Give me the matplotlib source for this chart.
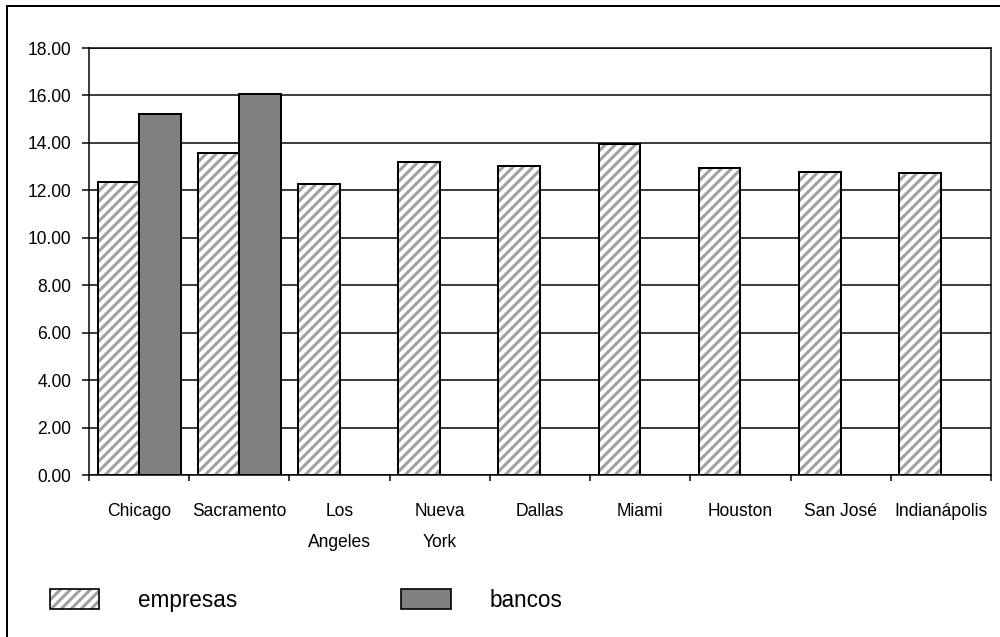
import matplotlib
matplotlib.use("Agg")
import matplotlib.pyplot as plt
import numpy as np
from matplotlib.patches import Patch, Rectangle
from matplotlib.legend_handler import HandlerTuple

ciudades = ["Chicago", "Sacramento", "Los\nAngeles", "Nueva\nYork", "Dallas",
            "Miami", "Houston", "San José", "Indianápolis"]
empresas = [12.36, 13.58, 12.26, 13.19, 13.03, 13.95, 12.96, 12.78, 12.72]
bancos = [15.24, 16.08, np.nan, np.nan, np.nan, np.nan, np.nan, np.nan, np.nan]
y_ticks = np.arange(0, 18.01, 2)

plt.rcParams["font.family"] = ["Liberation Sans", "DejaVu Sans"]
plt.rcParams["hatch.linewidth"] = 1.8

DPI = 120
fig = plt.figure(figsize=(1000 / DPI, 637 / DPI), dpi=DPI)
ax = fig.add_axes([0.089, 0.2543, 0.902, 0.6703])

x = np.arange(len(ciudades))
w = 0.415
off = 0.2075
HATCH = "////"

# hatched bars: gray stripes first, black outline on top
ax.bar(x - off, empresas, w, facecolor="white", edgecolor="#a0a0a0",
       hatch=HATCH, linewidth=0, zorder=3)
ax.bar(x - off, empresas, w, fill=False, edgecolor="black", linewidth=1.2, zorder=4)
ax.bar(x + off, bancos, w, color="#808080", edgecolor="black", linewidth=1.2, zorder=3)

ax.set_xlim(-0.5, len(ciudades) - 0.5)
ax.set_ylim(0, 18)
ax.set_yticks(y_ticks)
ax.set_yticklabels([f"{v:.2f}" for v in y_ticks])
ax.yaxis.grid(True, color="black", linewidth=0.9, zorder=1)
ax.set_axisbelow(True)

ax.set_xticks(x)
ax.set_xticklabels(ciudades)
ax.set_xticks(np.arange(-0.5, len(ciudades)), minor=True)
ax.tick_params(axis="x", which="major", length=0, pad=16.5, labelsize=10.5)
ax.tick_params(axis="x", which="minor", length=3.6, width=0.9, direction="out")
ax.tick_params(axis="y", length=4.2, width=0.9, pad=6.6, labelsize=10.5)
for lbl in ax.get_xticklabels():
    lbl.set_linespacing(2.1)

for s in ax.spines.values():
    s.set_linewidth(0.9)
    s.set_color("black")

h_emp = (Patch(facecolor="white", edgecolor="#a0a0a0", hatch=HATCH, linewidth=0),
         Patch(fill=False, edgecolor="black", linewidth=1.0))
h_ban = Patch(facecolor="#808080", edgecolor="black", linewidth=1.0)
fig.legend([h_emp, h_ban], ["empresas", "bancos"],
           handler_map={tuple: HandlerTuple(ndivide=1)},
           loc="center left", bbox_to_anchor=(0.05, 0.058), ncol=2,
           frameon=False, fontsize=13.5, handlelength=2.18, handleheight=1.02,
           handletextpad=1.73, columnspacing=7.3, borderpad=0, borderaxespad=0)

# outer frame around the chart
fig.patches.append(Rectangle((7 / 1000, -0.05), 1.2, 1 - 6.3 / 637 + 0.05,
                             transform=fig.transFigure, fill=False,
                             edgecolor="black", linewidth=1.2))

fig.savefig("out.png", dpi=DPI)
